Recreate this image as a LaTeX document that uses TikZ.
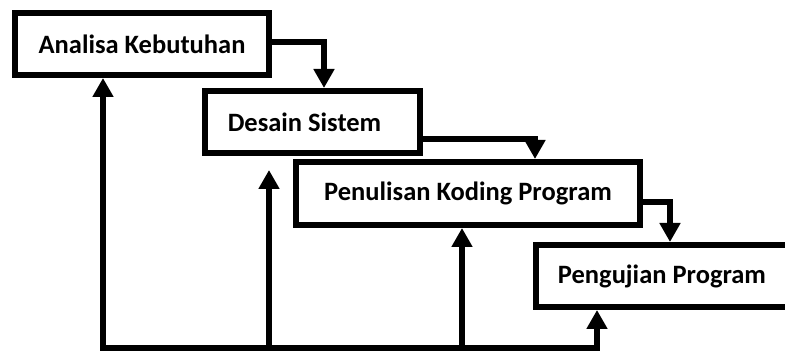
\documentclass[tikz,border=0pt]{standalone}
\usepackage{fontspec}
\setmainfont{Carlito}
\usetikzlibrary{arrows.meta,calc}
\begin{document}
\begin{tikzpicture}[x=1pt,y=1pt,
  stage/.style={draw=black,line width=6pt,fill=white,inner sep=0pt,
    minimum height=62pt,font=\fontsize{26.5}{31}\selectfont\bfseries},
  conn/.style={line width=6pt,-{Triangle[width=20pt,length=19pt]}},
  fb/.style={line width=6pt,line join=miter}]
\clip (0,0) rectangle (785,351);
\node[stage,minimum width=254pt] (b1) at (142,307) {Analisa Kebutuhan};
\node[stage,minimum width=215pt] (b2) at (312.5,229) {Desain Sistem\hspace*{16pt}};
\node[stage,minimum width=344pt,minimum height=63pt] (b3) at (468,157.5) {Penulisan Koding Program};
\node[stage,minimum width=252pt] (b4) at (662,75) {Pengujian Program};
% forward connectors
\draw[conn] ([yshift=2pt]b1.east) -| ([xshift=11.5pt]b2.north);
\draw[conn] ([yshift=-17pt]b2.east) -| ([xshift=67pt]b3.north);
\draw[conn] ([yshift=-9pt]b3.east) -| ([xshift=8pt]b4.north);
% feedback
\coordinate (f1) at (103,3.5);
\coordinate (f2) at (269,3.5);
\coordinate (f3) at (462,3.5);
\coordinate (f4) at (597,3.5);
\coordinate (t2) at (269,181);
\draw[fb,{Triangle[width=20pt,length=19pt]}-{Triangle[width=20pt,length=19pt]}]
  (f1 |- b1.south) -- (f1) -- (f4) -- (f4 |- b4.south);
\draw[conn] (f2) -- (t2);
\draw[conn] (f3) -- (f3 |- b3.south);
\end{tikzpicture}
\end{document}
